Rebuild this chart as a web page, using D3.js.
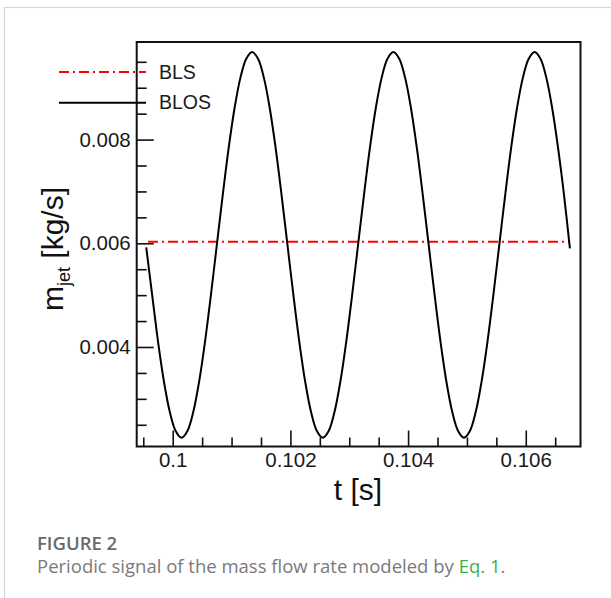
<!DOCTYPE html>
<html>
<head>
<meta charset="utf-8">
<script src="https://cdn.jsdelivr.net/npm/d3@7"></script>
<style>
  body { margin: 0; background: #fff; }
  svg { display: block; }
</style>
</head>
<body>
<div id="chart"></div>
<script>
// データ
var timeValues = [
  0.09955, 0.09965, 0.09975, 0.09985, 0.09995, 0.10005, 0.10015, 0.10025,
  0.10035, 0.10045, 0.10055, 0.10065, 0.10075, 0.10085, 0.10095, 0.10105,
  0.10115, 0.10125, 0.10135, 0.10145, 0.10155, 0.10165, 0.10175, 0.10185,
  0.10195, 0.10205, 0.10215, 0.10225, 0.10235, 0.10245, 0.10255, 0.10265,
  0.10275, 0.10285, 0.10295, 0.10305, 0.10315, 0.10325, 0.10335, 0.10345,
  0.10355, 0.10365, 0.10375, 0.10385, 0.10395, 0.10405, 0.10415, 0.10425,
  0.10435, 0.10445, 0.10455, 0.10465, 0.10475, 0.10485, 0.10495, 0.10505,
  0.10515, 0.10525, 0.10535, 0.10545, 0.10555, 0.10565, 0.10575, 0.10585,
  0.10595, 0.10605, 0.10615, 0.10625, 0.10635, 0.10645, 0.10655, 0.10665,
  0.10675,
];
var massValues = [
  0.00592, 0.00501, 0.00411, 0.00334, 0.00275, 0.00238, 0.00225, 0.00238,
  0.00275, 0.00334, 0.00411, 0.00501, 0.00597, 0.00693, 0.00783, 0.0086,
  0.00919, 0.00956, 0.00969, 0.00956, 0.00919, 0.0086, 0.00783, 0.00693,
  0.00597, 0.00501, 0.00411, 0.00334, 0.00275, 0.00238, 0.00225, 0.00238,
  0.00275, 0.00334, 0.00411, 0.00501, 0.00597, 0.00693, 0.00783, 0.0086,
  0.00919, 0.00956, 0.00969, 0.00956, 0.00919, 0.0086, 0.00783, 0.00693,
  0.00597, 0.00501, 0.00411, 0.00334, 0.00275, 0.00238, 0.00225, 0.00238,
  0.00275, 0.00334, 0.00411, 0.00501, 0.00597, 0.00693, 0.00783, 0.0086,
  0.00919, 0.00956, 0.00969, 0.00956, 0.00919, 0.0086, 0.00783, 0.00693,
  0.0059,
];
// BLS（一定値）
var blsTimes = [0.09958, 0.10675];
var blsValues = [0.00603, 0.00603];

// 目盛り
var xMajorTicks = [0.1, 0.102, 0.104, 0.106];
var xMinorTicks = [0.0995, 0.1005, 0.101, 0.1015, 0.1025, 0.103, 0.1035,
  0.1045, 0.105, 0.1055, 0.1065];
var yMajorTicks = [0.004, 0.006, 0.008];
var yMinorTicks = [0.0025, 0.003, 0.0035, 0.0045, 0.005, 0.0055, 0.0065,
  0.007, 0.0075, 0.0085, 0.009, 0.0095];
var legendNames = ["BLS", "BLOS"];

var width = 611,
  height = 598;
var plot = { left: 136.7, right: 580.5, top: 42, bottom: 446.5 };
var tickFont = "'Liberation Sans', Arial, sans-serif";

var svg = d3
  .select("#chart")
  .append("svg")
  .attr("width", width)
  .attr("height", height);

// カードの枠
svg
  .append("rect")
  .attr("x", 4.5)
  .attr("y", 7.5)
  .attr("width", 640)
  .attr("height", 640)
  .attr("fill", "none")
  .attr("stroke", "#d6d6d6")
  .attr("stroke-width", 1.2);

var xScale = d3
  .scaleLinear()
  .domain([0.099388, 0.10693])
  .range([plot.left, plot.right]);
var yScale = d3
  .scaleLinear()
  .domain([0.002081, 0.009882])
  .range([plot.bottom, plot.top]);

// X軸（内向きの目盛り）
var gXMinor = svg
  .append("g")
  .attr("transform", "translate(0," + plot.bottom + ")")
  .call(d3.axisBottom(xScale).tickValues(xMinorTicks).tickSize(-9).tickFormat(""));
var gXMajor = svg
  .append("g")
  .attr("transform", "translate(0," + plot.bottom + ")")
  .call(
    d3
      .axisBottom(xScale)
      .tickValues(xMajorTicks)
      .tickSize(-16)
      .tickPadding(6)
      .tickFormat(d3.format(""))
  );

// Y軸
var gYMinor = svg
  .append("g")
  .attr("transform", "translate(" + plot.left + ",0)")
  .call(d3.axisLeft(yScale).tickValues(yMinorTicks).tickSize(-10).tickFormat(""));
var gYMajor = svg
  .append("g")
  .attr("transform", "translate(" + plot.left + ",0)")
  .call(
    d3
      .axisLeft(yScale)
      .tickValues(yMajorTicks)
      .tickSize(-17)
      .tickPadding(6)
      .tickFormat(d3.format(".3f"))
  );

[gXMinor, gXMajor, gYMinor, gYMajor].forEach(function (g) {
  g.select(".domain").remove();
  g.selectAll(".tick line").attr("stroke", "#111").attr("stroke-width", 1.6);
  g.selectAll(".tick text")
    .attr("fill", "#1a1a1a")
    .style("font-family", tickFont)
    .style("font-size", "20.5px");
});

// 曲線
var lineGen = d3
  .line()
  .x(function (d) {
    return xScale(d[0]);
  })
  .y(function (d) {
    return yScale(d[1]);
  })
  .curve(d3.curveCatmullRom.alpha(0.5));

var massData = timeValues.map(function (t, i) {
  return [t, massValues[i]];
});
var blsData = blsTimes.map(function (t, i) {
  return [t, blsValues[i]];
});

svg
  .append("path")
  .datum(blsData)
  .attr("d", lineGen)
  .attr("fill", "none")
  .attr("stroke", "#ff0000")
  .attr("stroke-width", 2)
  .attr("stroke-dasharray", "10,4,2,4");

svg
  .append("path")
  .datum(massData)
  .attr("d", lineGen)
  .attr("fill", "none")
  .attr("stroke", "#000")
  .attr("stroke-width", 2);

// 外枠
svg
  .append("rect")
  .attr("x", plot.left)
  .attr("y", plot.top)
  .attr("width", plot.right - plot.left)
  .attr("height", plot.bottom - plot.top)
  .attr("fill", "none")
  .attr("stroke", "#111")
  .attr("stroke-width", 2);

// 凡例
var legendY = [72, 102.7];
var legend = svg
  .selectAll(".legend")
  .data(legendNames)
  .enter()
  .append("g")
  .attr("class", "legend");
legend
  .append("line")
  .attr("x1", 59)
  .attr("x2", 146)
  .attr("y1", function (d, i) {
    return legendY[i];
  })
  .attr("y2", function (d, i) {
    return legendY[i];
  })
  .attr("stroke", function (d, i) {
    return i === 0 ? "#ff0000" : "#000";
  })
  .attr("stroke-width", 2)
  .attr("stroke-dasharray", function (d, i) {
    return i === 0 ? "10,4,2,4" : null;
  });
legend
  .append("text")
  .attr("x", 159)
  .attr("y", function (d, i) {
    return legendY[i] + 6.5;
  })
  .text(function (d) {
    return d;
  })
  .attr("fill", "#1a1a1a")
  .style("font-family", tickFont)
  .style("font-size", "19.5px");

// 軸タイトル
svg
  .append("text")
  .attr("x", 358)
  .attr("y", 500)
  .attr("text-anchor", "middle")
  .attr("fill", "#111")
  .style("font-family", tickFont)
  .style("font-size", "30px")
  .text("t [s]");

var yTitle = svg
  .append("text")
  .attr("transform", "translate(63,249) rotate(-90)")
  .attr("text-anchor", "middle")
  .attr("fill", "#111")
  .style("font-family", tickFont)
  .style("font-size", "30px");
yTitle.append("tspan").text("m");
yTitle.append("tspan").attr("dy", 7).style("font-size", "18px").text("jet");
yTitle.append("tspan").attr("dy", -7).text(" [kg/s]");

// キャプション
var capFont = "'Open Sans', 'Noto Sans', sans-serif";
svg
  .append("text")
  .attr("x", 37)
  .attr("y", 550)
  .attr("fill", "#6a6a6a")
  .style("font-family", capFont)
  .style("font-size", "18.5px")
  .style("font-weight", 600)
  .text("FIGURE 2");
var cap = svg
  .append("text")
  .attr("x", 37)
  .attr("y", 573)
  .attr("fill", "#7a7a7a")
  .style("font-family", capFont)
  .style("font-size", "18.5px");
cap.append("tspan").text("Periodic signal of the mass flow rate modeled by ");
cap.append("tspan").attr("fill", "#3fae49").text("Eq. 1");
cap.append("tspan").text(".");
</script>
</body>
</html>
